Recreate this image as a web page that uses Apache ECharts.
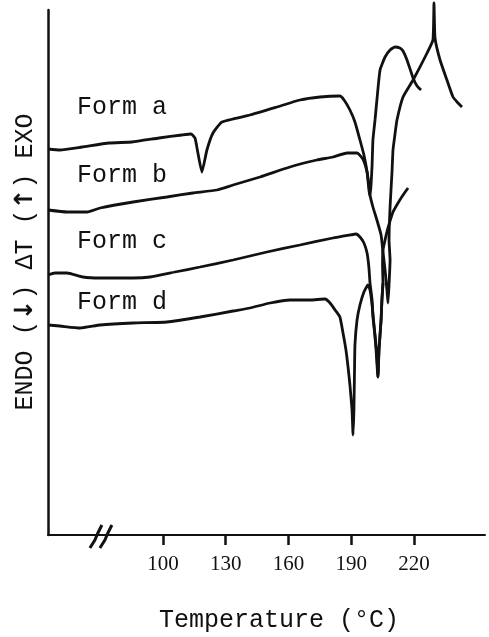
<!DOCTYPE html>
<html>
<head>
<meta charset="utf-8">
<script src="https://cdn.jsdelivr.net/npm/echarts@6/dist/echarts.min.js"></script>
<style>
  html, body { margin: 0; padding: 0; background: #fff; }
  #chart { width: 489px; height: 637px; }
</style>
</head>
<body>
<div id="chart"></div>
<script>
// DSC thermograms of the four crystal forms: [temperature (°C), ΔT (arbitrary units)]
const tempTicks = [100, 130, 160, 190, 220];

const formA = [
  [45.0, 77.2], [50.7, 77.0], [61.3, 77.6], [74.2, 78.4], [85.2, 78.6], [98.1, 79.4],
  [109.1, 80.0], [113.4, 80.2], [115.3, 79.4], [116.7, 76.4], [118.6, 72.6], [121.0, 77.0],
  [123.9, 80.4], [128.2, 82.6], [141.6, 84.0], [154.5, 85.6], [165.5, 87.0], [175.1, 87.6],
  [184.6, 87.8], [186.6, 87.0], [189.4, 85.0], [191.8, 82.6], [194.2, 79.0], [196.1, 76.0],
  [197.6, 72.6], [198.5, 69.0], [199.0, 67.8], [199.5, 70.0], [200.0, 74.0], [200.4, 79.0],
  [201.4, 83.0], [202.3, 87.0], [203.8, 93.0], [206.2, 95.6], [208.6, 97.0], [210.9, 97.6],
  [213.3, 97.4], [214.8, 96.8], [216.7, 95.0], [219.6, 91.4], [221.5, 89.8], [223.4, 89.0]
];

const formB = [
  [45.0, 65.0], [54.1, 64.6], [63.7, 64.6], [69.9, 65.4], [85.7, 66.6], [101.9, 67.6],
  [114.3, 68.4], [125.8, 69.0], [133.5, 70.0], [146.4, 71.6], [160.7, 73.6], [173.6, 75.0],
  [181.3, 75.6], [188.0, 76.4], [192.8, 76.4], [195.6, 75.2], [197.6, 72.6], [198.5, 70.0],
  [199.0, 68.0], [200.4, 65.6], [202.3, 63.0], [204.3, 60.0], [205.2, 56.6], [206.2, 53.0],
  [207.1, 49.0], [207.6, 46.4], [208.1, 50.0], [208.6, 55.0], [208.1, 59.0], [208.6, 65.6],
  [209.5, 72.4], [210.0, 77.0], [210.9, 80.0], [211.9, 83.0], [214.8, 87.6], [219.6, 91.0],
  [226.3, 96.4], [229.1, 99.0], [229.6, 106.4], [230.1, 99.4], [232.5, 95.0], [235.8, 91.0],
  [238.7, 87.6], [241.1, 86.4], [243.0, 85.6]
];

const formC = [
  [45.0, 52.0], [48.3, 52.4], [54.1, 52.4], [61.7, 51.6], [69.9, 51.4], [85.7, 51.4],
  [93.8, 51.6], [105.7, 52.6], [117.7, 53.6], [133.5, 55.0], [149.7, 56.6], [165.5, 58.0],
  [181.3, 59.4], [189.4, 60.0], [192.3, 60.2], [194.2, 59.6], [196.1, 58.4], [197.6, 56.4],
  [198.5, 53.4], [199.0, 50.4], [200.0, 47.0], [200.4, 43.6], [201.4, 40.0], [202.3, 36.0],
  [202.8, 31.6], [203.3, 37.0], [204.3, 43.0], [204.7, 47.0], [205.2, 50.4], [205.0, 54.0],
  [205.2, 57.0], [206.2, 59.0], [207.6, 61.4], [210.0, 64.6], [212.4, 66.4], [214.8, 68.0],
  [217.2, 69.4]
];

const formD = [
  [45.0, 42.0], [50.7, 41.8], [60.3, 41.4], [69.9, 42.0], [85.7, 42.4], [101.9, 42.6],
  [117.7, 43.6], [133.5, 44.8], [141.6, 45.4], [151.2, 46.4], [160.7, 47.0], [170.3, 47.0],
  [177.5, 47.2], [179.9, 46.4], [182.3, 45.0], [184.6, 43.6], [186.1, 40.4], [187.5, 37.0],
  [188.5, 33.6], [189.4, 30.0], [190.4, 25.0], [190.9, 20.0], [191.3, 25.0], [191.6, 33.0],
  [191.8, 38.0], [192.8, 43.0], [194.2, 46.0], [196.1, 48.6], [198.0, 50.0], [199.0, 49.0],
  [200.0, 46.0], [200.9, 42.0], [201.9, 37.0], [202.8, 31.6], [203.3, 37.0], [204.3, 43.0],
  [204.7, 47.0], [205.2, 50.4]
];

const formNames = ['Form a', 'Form b', 'Form c', 'Form d'];
const formSeries = [formA, formB, formC, formD];

const INK = '#111';
const MONO = '"Liberation Mono", "DejaVu Sans Mono", monospace';

const chart = echarts.init(document.getElementById('chart'), null, { renderer: 'canvas' });

chart.setOption({
  animation: false,
  backgroundColor: '#fff',
  grid: { left: 48, right: 4, top: 10, bottom: 102, containLabel: false },
  xAxis: {
    type: 'value',
    min: 45,
    max: 254,
    axisLine: { show: true, lineStyle: { color: INK, width: 2 } },
    axisTick: {
      show: true, length: 10, inside: false,
      customValues: tempTicks,
      lineStyle: { color: INK, width: 2.5 }
    },
    axisLabel: {
      show: true, margin: 19, color: INK,
      fontFamily: '"Liberation Serif", serif', fontSize: 21,
      customValues: tempTicks
    },
    splitLine: { show: false }
  },
  yAxis: {
    type: 'value',
    min: 0,
    max: 105,
    axisLine: { show: true, onZero: false, lineStyle: { color: INK, width: 2.5 } },
    axisTick: { show: false },
    axisLabel: { show: false },
    splitLine: { show: false }
  },
  series: formSeries.map((d, i) => ({
    name: formNames[i],
    type: 'line',
    data: d,
    symbol: 'none',
    smooth: 0.15,
    clip: false,
    lineStyle: { color: INK, width: 2.8 }
  }))
});

// Axis break mark on the temperature axis, anchored to the axis scale
const brk = chart.convertToPixel({ gridIndex: 0 }, [70.3, 0]);
const stroke = (dx) => ({
  type: 'polyline',
  shape: { points: [
    [brk[0] + dx - 11, brk[1] + 13], [brk[0] + dx - 6, brk[1] + 5],
    [brk[0] + dx - 3, brk[1] - 2], [brk[0] + dx + 1, brk[1] - 10]
  ] },
  style: { stroke: INK, lineWidth: 3, fill: null }
});

const textEl = (text, x, y, opts) => ({
  type: 'text',
  x: x, y: y,
  style: Object.assign({
    text: text,
    fill: INK,
    font: '25px ' + MONO,
    textAlign: 'left',
    textVerticalAlign: 'middle'
  }, opts || {})
});

const formLabelY = [107, 175, 241, 302];

const yTitle = textEl('ENDO ({ar|↓}) ΔT ({ar|↑}) EXO', 0, 0, {
  textAlign: 'center',
  rich: { ar: { font: 'bold 25px "DejaVu Sans", sans-serif', fill: INK } }
});
yTitle.x = 25;
yTitle.y = 262;
yTitle.rotation = Math.PI / 2;

chart.setOption({
  graphic: [
    stroke(0),
    stroke(10),
    ...formNames.map((n, i) => textEl(n, 77, formLabelY[i])),
    textEl('Temperature (°C)', 279, 620, { textAlign: 'center' }),
    yTitle
  ]
});
</script>
</body>
</html>
